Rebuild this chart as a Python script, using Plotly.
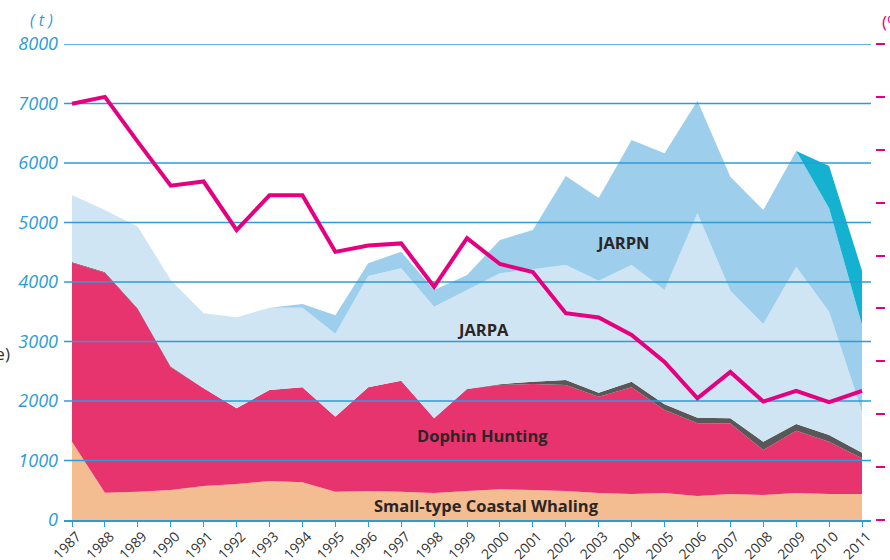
import plotly.graph_objects as go

years = list(range(1987, 2012))

# tonnes per category (stacked, bottom to top)
coastal = [1316, 460, 476, 504, 571, 605, 655, 633, 476, 487, 476, 454, 487,
           515, 504, 487, 454, 437, 454, 403, 437, 420, 454, 437, 437]
dolphin = [3009, 3697, 3065, 2062, 1642, 1272, 1530, 1597, 1261, 1743, 1866, 1255, 1715,
           1754, 1782, 1782, 1619, 1793, 1395, 1222, 1183, 756, 1047, 879, 600]
other = [12, 12, 12, 12, 0, 0, 0, 0, 0, 0, 0, 0, 0,
         14, 39, 84, 67, 95, 98, 92, 90, 140, 112, 113, 94]
jarpa = [1125, 1041, 1377, 1456, 1261, 1529, 1383, 1338, 1393, 1871, 1888, 1876, 1664,
         1863, 1888, 1933, 1882, 1961, 1919, 3437, 2144, 1978, 2645, 2073, 690]
jarpn = [0, 0, 0, 0, 0, 0, 0, 62, 310, 213, 280, 281, 252,
         560, 661, 1496, 1390, 2101, 2296, 1894, 1916, 1916, 1944, 1736, 1456]
teal = [0] * 22 + [0, 712, 914]

# right-axis line
ratio = [7.87, 8.00, 7.15, 6.32, 6.40, 5.48, 6.14, 6.14, 5.07, 5.19, 5.23, 4.41, 5.33,
         4.84, 4.69, 3.91, 3.83, 3.50, 2.99, 2.30, 2.80, 2.24, 2.44, 2.23, 2.44]

left_ticks = [0, 1000, 2000, 3000, 4000, 5000, 6000, 7000, 8000]
right_ticks = [0, 1, 2, 3, 4, 5, 6, 7, 8, 9]

BLUE = "#2A9CDA"
MAG = "#E5007F"
DARK = "#2B2526"
X0, X1 = 1986.757, 2011.273

fig = go.Figure()
series = [
    ("Small-type Coastal Whaling", coastal, "#F3BC91"),
    ("Dophin Hunting", dolphin, "#E8346E"),
    ("Other", other, "#5A5758"),
    ("JARPA", jarpa, "#CFE5F4"),
    ("JARPN", jarpn, "#9DCFEC"),
    ("JARPN II", teal, "#14B2D0"),
]
for name, vals, col in series:
    fig.add_trace(go.Scatter(
        x=years, y=vals, name=name, stackgroup="s", mode="none",
        fillcolor=col, line=dict(width=0), hoverinfo="skip", showlegend=False))

# grid lines drawn above fills
gx, gy = [], []
for v in left_ticks[1:]:
    gx += [X0, X1, None]
    gy += [v, v, None]
fig.add_trace(go.Scatter(x=gx, y=gy, mode="lines", line=dict(color=BLUE, width=1.3),
                         hoverinfo="skip", showlegend=False))

fig.add_trace(go.Scatter(x=years, y=ratio, yaxis="y2", mode="lines",
                         line=dict(color=MAG, width=4), hoverinfo="skip", showlegend=False))

W, L, R, T, B = 890, 64, 5, 44, 40
pw = W - L - R
ph = 560 - T - B
dom_end = (871 - L) / pw
y2pos = (875 - L) / pw

fig.update_layout(
    width=890, height=560,
    margin=dict(l=L, r=R, t=T, b=B, autoexpand=False),
    paper_bgcolor="white", plot_bgcolor="white",
    showlegend=False,
    xaxis=dict(range=[X0, X1], domain=[0, dom_end], tickmode="array", tickvals=years,
               ticktext=[str(y) for y in years], tickangle=-45, automargin=False,
               tickfont=dict(family="Open Sans", size=14, color="#333333"),
               ticklabelshift=5, ticklabelstandoff=-4,
               showgrid=False, zeroline=False, showline=True, linecolor=BLUE, linewidth=1.5,
               ticks="outside", ticklen=5, tickcolor=BLUE, tickwidth=1.2),
    yaxis=dict(range=[0, 8000], tickmode="array", tickvals=left_ticks, automargin=False,
               ticktext=[str(v) for v in left_ticks],
               tickfont=dict(family="Open Sans", size=18, color=BLUE, style="italic"),
               showgrid=False, zeroline=False, ticks="", ticklabelstandoff=5),
    yaxis2=dict(range=[0, 9], overlaying="y", anchor="free", position=y2pos, side="right",
                tickmode="array", tickvals=right_ticks,
                ticktext=[str(v) for v in right_ticks],
                tickfont=dict(family="Open Sans", size=16, color=MAG),
                showgrid=False, zeroline=False, showline=False, ticklabelstandoff=3,
                ticks="outside", ticklen=9, tickcolor=MAG, tickwidth=2, automargin=False),
)

lab_font = dict(family="Open Sans", size=16.5, color=DARK, weight="bold")
for txt, xx, yy in [("JARPN", 2003.74, 4672), ("JARPA", 1999.48, 3210),
                    ("Dophin Hunting", 1999.48, 1412),
                    ("Small-type Coastal Whaling", 1999.6, 252)]:
    fig.add_annotation(x=xx, y=yy, text=txt, showarrow=False, font=lab_font,
                       xanchor="center", yanchor="middle")

fig.add_annotation(xref="paper", yref="paper", x=(41 - L) / pw, y=1 + 24 / ph,
                   text="( t )", showarrow=False, xanchor="center", yanchor="middle",
                   font=dict(family="Open Sans", size=16, color=BLUE, style="italic"))
fig.add_annotation(xref="paper", yref="paper", x=(880 - L) / pw, y=1 + 22 / ph,
                   text="(%)", showarrow=False, xanchor="left", yanchor="middle",
                   font=dict(family="Open Sans", size=17, color=MAG))
fig.add_annotation(xref="paper", yref="paper", x=(12 - L) / pw, y=(520 - 353) / ph,
                   text="(whale)", showarrow=False, xanchor="right", yanchor="middle",
                   font=dict(family="Open Sans", size=17, color="#333333"))

fig.write_html("out.html", config={"displayModeBar": False},
               post_script="document.body.style.margin='0';document.body.style.overflow='hidden';")
